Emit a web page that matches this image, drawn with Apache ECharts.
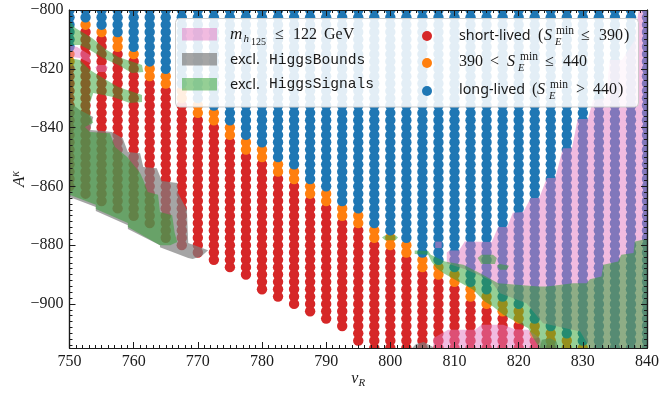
<!DOCTYPE html>
<html>
<head>
<meta charset="utf-8">
<style>
    html, body { margin: 0; padding: 0; background: #fff; }
    #chart { width: 664px; height: 394px; }
</style>
<script src="https://cdn.jsdelivr.net/npm/echarts@6/dist/echarts.min.js"></script>
</head>
<body>
<div id="chart"></div>
<script>
const vR = [750, 752.5, 755, 757.5, 760, 762.5, 765, 767.5, 770, 772.5, 775, 777.5, 780, 782.5, 785, 787.5, 790, 792.5, 795,
    797.5, 800, 802.5, 805, 807.5, 810, 812.5, 815, 817.5, 820, 822.5, 825, 827.5, 830, 832.5, 835, 837.5, 840]

// lowest A^kappa of each class in each vR column
const lastBlue = [-812.5, -802.5, -805, -807.5, -812.5, -817.5, -820, -825, -830, -832.5, -837.5, -842.5, -845, -850, -852.5, -857.5, -860, -865, -867.5,
    -872.5, -875, -877.5, -882.5, -885, -887.5, -892.5, -895, -897.5, -900, -905, -907.5, -910, -912.5, -915, -915, -915, -915]
const lastOrange = [-817.5, -805, -807.5, -812.5, -815, -822.5, -825, -830, -835, -837.5, -842.5, -847.5, -850, -855, -857.5, -862.5, -865, -870, -872.5,
    -877.5, -880, -882.5, -887.5, -890, -892.5, -897.5, -900, -902.5, -905, -910, -912.5, -915, -915, -915, -915, -915, -915]
const lastRed = [-860, -862.5, -865, -867.5, -870, -872.5, -877.5, -880, -882.5, -885, -887.5, -890, -895, -897.5, -900, -902.5, -905, -907.5, -912.5,
    -915, -915, -915, -915, -915, -915, -915, -915, -915, -915, -915, -915, -915, -915, -915, -915, -915, -915]

const xTicks = [750, 760, 770, 780, 790, 800, 810, 820, 830, 840]
const yTicks = [-800, -820, -840, -860, -880, -900]

// excluded regions, [vR, A] outlines
const pinkRegions = [
    [[840, -800], [838.7, -800], [838.1, -810.2], [836.1, -817], [834.2, -817], [833.6, -829.9], [831.6, -830.6], [830.8, -837.1], [829.2, -837.1],
        [828.3, -847], [826.9, -847], [825.7, -857.2], [824.4, -857.2], [823.2, -864], [821.9, -864], [820.7, -868.7], [819.1, -869], [818.2, -873.8],
        [816.8, -873.8], [815.8, -878.9], [811.6, -878.8], [810.7, -881.8], [809.2, -881.8], [808.8, -882.5], [808.8, -886.2], [811.9, -888.4],
        [815.5, -891.8], [817.1, -896.4], [821.2, -899.8], [823.8, -906.6], [829.6, -909.4], [831.1, -915], [840, -915]],
    [[806.7, -915], [806.7, -911.7], [809, -908.8], [813.2, -908.8], [814.2, -907.1], [817.6, -907.1], [819.4, -908.6], [821.5, -908.8], [823.3, -911.7], [823.8, -915]],
    [[750, -811.9], [751.2, -812.6], [753.2, -815.3], [753.2, -818], [751.6, -816.3], [750, -815.9]],
    [[754, -819.5], [754.5, -818.7], [755.6, -818.7], [756, -819.5], [755.6, -821.1], [754.5, -821.1]],
    [[807, -878.8], [808, -878.8], [808, -881], [807, -881]]
]
const grayRegions = [
    [[750, -831.3], [751.6, -834], [753.7, -836.4], [753.2, -840.8], [755.2, -841.2], [756.6, -841.5], [758.3, -843.6], [759.1, -848.3], [761, -848.7],
        [761.5, -853.4], [763.6, -853.8], [764.4, -858.2], [766.8, -858.9], [766.9, -862.3], [768.3, -868], [768.5, -879.3], [771.6, -881.7], [770.6, -883.7],
        [769.2, -884.7], [768.5, -884.4], [764.1, -880.7], [764.1, -880], [759.1, -874.5], [759.1, -873.2], [754.1, -868.4], [754.1, -867], [750, -863.6]],
    [[803.4, -915], [804, -913.6], [805.2, -913], [806.5, -914.5], [806.8, -915]],
    [[823.3, -915], [823.6, -912.2], [824.9, -911.7], [825.9, -912.8], [826.2, -915]]
]
const greenRegions = [
    [[750, -803.4], [750.9, -806.1], [753.5, -809.5], [755.8, -813.6], [757.6, -816], [761.3, -818.7], [761.5, -821.1], [759.7, -821.4], [757.6, -818.7],
        [755.2, -816.3], [753.2, -813.6], [751.6, -811.9], [750, -811.9]],
    [[750, -816.3], [751.6, -817], [753.2, -820.4], [755.2, -823.1], [757.6, -826.2], [761.3, -828.9], [761.3, -831.3], [759.4, -831.6], [756.8, -829.6],
        [753.7, -828.2], [753.2, -831.6], [753.2, -835.7], [753.7, -838.4], [752.4, -839.8], [753.2, -841.5], [756.3, -841.9], [757.1, -846.6], [759, -850],
        [761, -855.5], [761.5, -857.8], [762.2, -861.9], [763.8, -862.9], [764.1, -868.7], [766, -869.8], [766.4, -875.9], [766.8, -878.9], [765.7, -880],
        [764.1, -880], [759.1, -873.8], [759.1, -872.5], [754.1, -867.7], [754.1, -866.3], [750, -862.9]],
    [[803.8, -881.8], [805.9, -882], [806.3, -883.3], [808.5, -885.6], [811.4, -886.7], [814, -889.6], [816.8, -893], [823.1, -894.1], [824.4, -894.1],
        [828.5, -893], [830.6, -893], [831.1, -891.6], [832.9, -890.7], [833.2, -886.7], [835.5, -885.6], [836, -883.3], [837.9, -882.7], [838.1, -878.8],
        [839.7, -878], [840, -878], [840, -915], [823.3, -915], [822.3, -911.7], [821.5, -908.3], [818.6, -904.9], [817.6, -903.7], [816, -900.9],
        [814.7, -899.2], [812.9, -895.2], [810.6, -892.4], [808.3, -889.6], [807.2, -887.9], [806.4, -885.6], [805.9, -883.3], [803.8, -883]],
    [[813.6, -884.4], [814.2, -883.3], [816, -883.3], [816.6, -884.4], [816.3, -886.4], [814.2, -886.4]],
    [[816.6, -887], [817.1, -886.4], [818.5, -887], [818.1, -888.4], [817.1, -888.4]],
    [[798.7, -877.4], [799.2, -876.6], [800.8, -876.6], [801.2, -877.4], [800.8, -878.3], [799.2, -878.3]]
]

const RED = '#d62728'
const ORANGE = '#ff7f0e'
const BLUE = '#1f77b4'
const PINK = 'rgba(227,119,194,0.5)'
const GRAY = 'rgba(127,127,127,0.7)'
const GREEN = 'rgba(44,160,44,0.5)'
const INK = '#1a1a1a'
const SERIF = '"Liberation Serif", serif'
const SANS = '"Noto Sans", sans-serif'
const MONO = '"Liberation Mono", monospace'

// the scan runs on a fixed 2.5 step in A, a column's class changes at the last* values
function columnPoints(upper, lower) {
    const points = []
    vR.forEach((v, i) => {
        const top = upper ? upper[i] - 2.5 : -800
        for (let a = top; a >= lower[i]; a -= 2.5) {
            points.push([v, a])
        }
    })
    return points
}

// custom series so the dots get cut at the frame, scatter only drops them
function dots(name, color, points) {
    return {
        name,
        type: 'custom',
        clip: true,
        data: points,
        renderItem(params, api) {
            const [cx, cy] = api.coord([api.value(0), api.value(1)])
            return { type: 'circle', shape: { cx, cy, r: 5.2 }, style: { fill: color } }
        }
    }
}

function regions(name, color, outlines) {
    return {
        name,
        type: 'custom',
        clip: true,
        data: outlines.map(o => o[0]),
        renderItem(params, api) {
            return {
                type: 'polygon',
                shape: { points: outlines[params.dataIndex].map(p => api.coord(p)) },
                style: { fill: color }
            }
        }
    }
}

function minorOf(ticks, step, from, to) {
    const out = []
    for (let v = from; v <= to; v += step) {
        if (!ticks.includes(v)) out.push(v)
    }
    return out
}

function axis(base, ticks, length, extra) {
    return Object.assign({}, base, {
        z: 10,
        axisLine: { show: true, onZero: false, lineStyle: { color: INK, width: 1.2 } },
        axisTick: { show: true, inside: true, length, customValues: ticks, lineStyle: { color: INK, width: 1 } },
        axisLabel: { show: false },
        splitLine: { show: false }
    }, extra)
}

const xBase = { type: 'value', min: 750, max: 840 }
const yBase = { type: 'value', min: -915, max: -800 }
const xMinor = minorOf(xTicks, 1, 750, 840)
const yMinor = minorOf(yTicks, 2, -914, -800)

const tickLabel = { color: INK, fontFamily: SERIF, fontSize: 16 }

function txt(text, x, y, size, font, extra) {
    return {
        type: 'text',
        z: 20,
        x,
        y,
        style: Object.assign({ text, fontSize: size, fontFamily: font, fill: INK, verticalAlign: 'middle' }, extra)
    }
}

const ITALIC = { fontStyle: 'italic' }

function patch(y, fill) {
    return { type: 'rect', z: 20, shape: { x: 182, y, width: 35, height: 12.5 }, style: { fill } }
}

function marker(y, fill) {
    return { type: 'circle', z: 20, shape: { cx: 427, cy: y, r: 5 }, style: { fill } }
}

function sE(x, y, subX, supX) {
    return [
        txt('S', x, y, 16, SERIF, ITALIC),
        txt('E', subX, y + 6, 10.5, SERIF, ITALIC),
        txt('min', supX, y - 5, 11.5, SERIF)
    ]
}

const legend = [
    {
        type: 'rect', z: 19,
        shape: { x: 175.5, y: 18.5, width: 463, height: 88.5, r: 4 },
        style: { fill: 'rgba(255,255,255,0.88)', stroke: '#cccccc', lineWidth: 1 }
    },
    patch(28, PINK), patch(53, GRAY), patch(78, GREEN),
    txt('m', 230, 35, 17, SERIF, ITALIC),
    txt('h', 243.5, 39, 11, SERIF, ITALIC),
    txt('125', 251, 42, 10, SERIF),
    txt('≤', 275, 35, 16, SERIF),
    txt('122', 293, 35, 16, SERIF),
    txt('GeV', 324, 35, 16, SERIF),
    txt('excl.', 230, 60, 14.5, SANS),
    txt('HiggsBounds', 269, 60.5, 14.6, MONO),
    txt('excl.', 230, 84.5, 14.5, SANS),
    txt('HiggsSignals', 269, 84.5, 14.6, MONO),
    marker(36, RED), marker(63, ORANGE), marker(91, BLUE),
    txt('short-lived', 459, 35.5, 14.3, SANS),
    txt('(', 538, 36, 16, SERIF),
    ...sE(544, 36, 555, 556),
    txt('≤', 581, 36, 16, SERIF),
    txt('390', 599, 36, 16, SERIF),
    txt(')', 624, 36, 16, SERIF),
    txt('390', 459, 62, 16, SERIF),
    txt('<', 490, 62, 16, SERIF),
    ...sE(507, 62, 518, 520),
    txt('≤', 545, 62, 16, SERIF),
    txt('440', 563, 62, 16, SERIF),
    txt('long-lived', 459, 89.5, 14.3, SANS),
    txt('(', 532, 90, 16, SERIF),
    ...sE(537, 90, 549, 550),
    txt('>', 576, 90, 16, SERIF),
    txt('440', 593, 90, 16, SERIF),
    txt(')', 618, 90, 16, SERIF)
]

const chart = echarts.init(document.getElementById('chart'), null, { renderer: 'canvas' })
chart.setOption({
    animation: false,
    backgroundColor: '#fff',
    grid: { left: 69.5, right: 17, top: 10, bottom: 46, outerBoundsMode: 'none' },
    xAxis: [
        axis(xBase, xTicks, 6, {
            position: 'bottom',
            axisLabel: { show: true, customValues: xTicks, margin: 6, ...tickLabel },
            name: 'v{sub|R}',
            nameLocation: 'middle',
            nameGap: 21,
            nameMoveOverlap: false,
            nameTextStyle: {
                color: INK, fontFamily: SERIF, fontSize: 16, fontStyle: 'italic',
                rich: { sub: { fontFamily: SERIF, fontSize: 11, fontStyle: 'italic', verticalAlign: 'bottom', lineHeight: 20, padding: [5, 0, 0, 0] } }
            }
        }),
        axis(xBase, xMinor, 3, { position: 'bottom' }),
        axis(xBase, xTicks, 6, { position: 'top' }),
        axis(xBase, xMinor, 3, { position: 'top' })
    ],
    yAxis: [
        axis(yBase, yTicks, 6, {
            position: 'left',
            axisLabel: { show: true, customValues: yTicks, margin: 6, ...tickLabel, formatter: v => String(v).replace('-', '−') },
            name: 'A{sup|κ}',
            nameLocation: 'middle',
            nameGap: 40,
            nameMoveOverlap: false,
            nameRotate: 90,
            nameTextStyle: {
                color: INK, fontFamily: SERIF, fontSize: 17, fontStyle: 'italic',
                rich: { sup: { fontFamily: SERIF, fontSize: 12, fontStyle: 'italic', verticalAlign: 'top', lineHeight: 20, padding: [0, 0, 6, 0] } }
            }
        }),
        axis(yBase, yMinor, 3, { position: 'left' }),
        axis(yBase, yTicks, 6, { position: 'right' }),
        axis(yBase, yMinor, 3, { position: 'right' })
    ],
    series: [
        dots('short-lived', RED, columnPoints(lastOrange, lastRed)),
        dots('intermediate', ORANGE, columnPoints(lastBlue, lastOrange)),
        dots('long-lived', BLUE, columnPoints(null, lastBlue)),
        regions('mh125', PINK, pinkRegions),
        regions('HiggsBounds', GRAY, grayRegions),
        regions('HiggsSignals', GREEN, greenRegions)
    ],
    graphic: legend
})
</script>
</body>
</html>
